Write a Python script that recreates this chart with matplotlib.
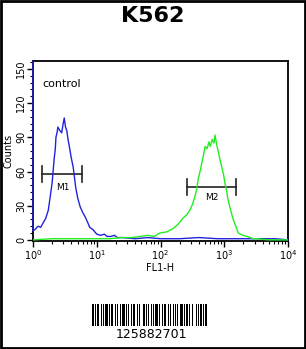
import numpy as np
import matplotlib.pyplot as plt
from matplotlib.ticker import MultipleLocator, LogLocator, NullFormatter

# histogram traces (x in FL1-H, y = counts)
blue_logx = [0.0, 0.0, 0.03, 0.08, 0.12, 0.16, 0.20, 0.24, 0.27, 0.30, 0.33, 0.35, 0.36, 0.38,
             0.39, 0.42, 0.45, 0.47, 0.49, 0.51, 0.53, 0.55, 0.57, 0.60, 0.63, 0.65, 0.67, 0.70,
             0.74, 0.78, 0.82, 0.86, 0.89, 0.94, 1.0, 1.06, 1.12, 1.16, 1.22, 1.28, 1.32, 1.40,
             1.6, 1.8, 2.0, 2.3, 2.6, 2.9, 3.2, 3.5, 3.8, 4.0]
blue_cnt = [157, 8, 9, 12, 11, 15, 19, 26, 38, 50, 70, 80, 90, 95,
            99, 96, 94, 101, 107, 99, 96, 88, 82, 72, 64, 55, 46, 37,
            29, 24, 20, 15, 11, 9, 5, 4, 5, 3, 3, 4, 2, 2,
            1, 2, 1, 1, 2, 1, 1, 1, 1, 0]

green_logx = [0.0, 0.3, 0.6, 0.9, 1.2, 1.4, 1.55, 1.68, 1.8, 1.9, 1.99, 2.1, 2.2, 2.28, 2.35,
              2.41, 2.46, 2.50, 2.54, 2.57, 2.59, 2.62, 2.65, 2.68, 2.70, 2.73, 2.76, 2.78,
              2.81, 2.84, 2.855, 2.88, 2.90, 2.93, 2.96, 2.99, 3.01, 3.04, 3.06, 3.10, 3.14,
              3.18, 3.22, 3.29, 3.36, 3.45, 3.51, 3.7, 4.0]
green_cnt = [0, 1, 1, 1, 1, 2, 2, 3, 4, 3, 6, 7, 10, 14, 19,
             22, 26, 31, 38, 45, 53, 60, 68, 76, 82, 80, 86, 82,
             88, 85, 92, 84, 79, 71, 64, 57, 50, 42, 35, 26, 18,
             12, 6, 4, 3, 1, 1, 0, 0]

# barcode bar / gap widths (px), starting with a bar
bar_widths = [2, 1, 1, 1, 2, 2, 1, 1, 1, 2, 3, 1, 1, 1, 2, 2, 1, 1, 1, 2,
              1, 1, 3, 1, 2, 1, 1, 2, 1, 1, 2, 2, 1, 1, 1, 3, 2, 1, 1, 1,
              1, 2, 2, 1, 1, 1, 3, 1, 1, 2, 1, 1, 2, 2, 1, 1, 1, 2, 2, 1,
              1, 1, 1, 2, 3, 1, 1, 1, 2, 1, 1, 2, 1, 3, 2, 1, 1, 1, 2, 1,
              1, 1, 2, 2]
barcode_text = '125882701'

fig = plt.figure(figsize=(3.06, 3.49), dpi=100)
W, H = 306, 349

ax = fig.add_axes([33 / W, 1 - 241 / H, 255 / W, 180 / H])
ax.plot(10 ** np.array(blue_logx), blue_cnt, color='#2222dd', lw=1.0, zorder=3, clip_on=False)
ax.plot(10 ** np.array(green_logx), green_cnt, color='#22ee22', lw=1.0, zorder=3)

ax.set_xscale('log')
ax.set_xlim(1, 1e4)
ax.set_ylim(-1, 157)
ax.yaxis.set_major_locator(MultipleLocator(30))
ax.yaxis.set_minor_locator(MultipleLocator(6))
ax.xaxis.set_major_locator(LogLocator(base=10))
ax.xaxis.set_minor_locator(LogLocator(base=10, subs=np.arange(2, 10)))
ax.xaxis.set_minor_formatter(NullFormatter())
ax.tick_params(which='major', direction='out', length=4, width=1, labelsize=7, pad=1)
ax.tick_params(which='minor', direction='out', length=2, width=0.8)
for lab in ax.get_yticklabels():
    lab.set_rotation(90)
    lab.set_va('center')
for s in ax.spines.values():
    s.set_linewidth(1.3)
ax.set_xlabel('FL1-H', fontsize=7, labelpad=1)
ax.set_ylabel('Counts', fontsize=7, labelpad=2)

# markers
ax.plot([10 ** 0.14, 10 ** 0.77], [58, 58], color='#222222', lw=1.2)
ax.plot([10 ** 0.14] * 2, [51, 65], color='#222222', lw=1.2)
ax.plot([10 ** 0.77] * 2, [51, 65], color='#222222', lw=1.2)
ax.text(10 ** 0.47, 46, 'M1', fontsize=6.5, ha='center', va='center')
ax.plot([10 ** 2.41, 10 ** 3.18], [46, 46], color='#222222', lw=1.2)
ax.plot([10 ** 2.41] * 2, [39, 53], color='#222222', lw=1.2)
ax.plot([10 ** 3.18] * 2, [39, 53], color='#222222', lw=1.2)
ax.text(10 ** 2.8, 37, 'M2', fontsize=6.5, ha='center', va='center')
ax.text(10 ** 0.14, 137, 'control', fontsize=8, ha='left', va='center')

fig.text(0.5, 1 - 16 / H, 'K562', fontsize=16, fontweight='bold', ha='center', va='center')

# barcode
bx = fig.add_axes([92 / W, 1 - 326 / H, 117 / W, 22 / H])
pos = np.concatenate([[0], np.cumsum(bar_widths)[:-1]])
bx.bar(pos[::2], 1, width=bar_widths[::2], align='edge', color='black')
bx.set_xlim(0, sum(bar_widths))
bx.set_ylim(0, 1)
bx.axis('off')
fig.text(151 / W, 1 - 335 / H, barcode_text, fontsize=9, ha='center', va='center')

# outer frame
fig.patches.append(plt.Rectangle((0.003, 0.003), 0.994, 0.994, transform=fig.transFigure,
                                 fill=False, edgecolor='black', lw=2))

fig.savefig('out.png', dpi=100)
